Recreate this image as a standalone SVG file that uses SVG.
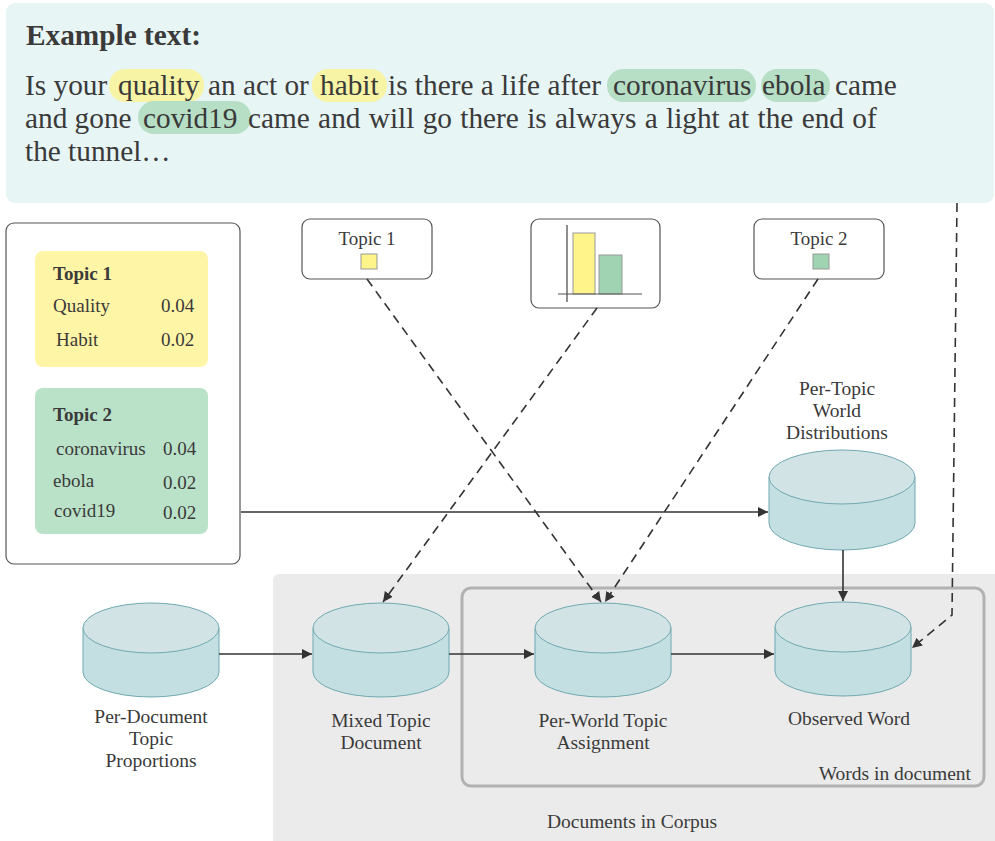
<svg xmlns="http://www.w3.org/2000/svg" width="995" height="841" viewBox="0 0 995 841">
<defs>
<style>
.t{font-family:"Liberation Serif","Times New Roman",serif;fill:#3a3a3a}
.lb{font-family:"Liberation Serif","Times New Roman",serif;fill:#3a3a3a;font-size:19.5px}
.c{text-anchor:middle}
.b{font-weight:bold}
.cylb{fill:#c4dfe2;stroke:#6fa9b0;stroke-width:1}
.cylt{fill:#d2e3e6;stroke:#6fa9b0;stroke-width:1}
.solid{fill:none;stroke:#333;stroke-width:1.6}
.dash{fill:none;stroke:#333;stroke-width:1.6;stroke-dasharray:9 6}
.hy{fill:#f8f4a6}
.hg{fill:#b6dfc6}
.box{fill:#fff;stroke:#555;stroke-width:1.2}
</style>
<marker id="ah" viewBox="0 0 10 10" refX="10" refY="5" markerWidth="10" markerHeight="10" markerUnits="userSpaceOnUse" orient="auto">
<path d="M0,0 L10,5 L0,10 z" fill="#333"/>
</marker>
</defs>
<rect width="995" height="841" fill="#fff"/>

<g id="example-text">
<rect x="6" y="3" width="988" height="200" rx="9" fill="#e8f5f5"/>
<rect class="hy" x="109" y="69" width="95" height="33" rx="16"/>
<rect class="hy" x="312" y="69" width="75" height="33" rx="16"/>
<rect class="hg" x="607" y="69" width="149" height="33" rx="16"/>
<rect class="hg" x="761" y="69" width="69" height="33" rx="16"/>
<rect class="hg" x="138" y="101" width="113" height="33" rx="16"/>
<text class="t b" x="26" y="45" font-size="29.3" fill="#4a4a4a">Example text:</text>
<text class="t" y="95" font-size="29.3"><tspan x="25">Is your</tspan><tspan x="118">quality</tspan><tspan x="208">an act or</tspan><tspan x="320">habit</tspan><tspan x="388">is there a life after</tspan><tspan x="613">coronavirus</tspan><tspan x="762">ebola</tspan><tspan x="835">came</tspan></text>
<text class="t" y="128" font-size="29.3"><tspan x="25">and gone</tspan><tspan x="143">covid19</tspan><tspan x="248" word-spacing="1">came and will go there is always a light at the end of</tspan></text>
<text class="t" x="25" y="161" font-size="29.3">the tunnel…</text>
</g>

<g id="corpus">
<path d="M279,574 H995 V841 H273 V580 A6,6 0 0 1 279,574 z" fill="#ebebeb"/>
<text class="lb c" x="632" y="828">Documents in Corpus</text>
</g>

<g id="words-in-document">
<rect x="462" y="588" width="522" height="198" rx="9" fill="none" stroke="#b2b2b2" stroke-width="3"/>
<text class="lb" x="971" y="780" text-anchor="end">Words in document</text>
</g>

<g id="topic-table">
<rect class="box" x="6" y="223" width="234" height="341" rx="8" stroke="#888"/>
<rect x="35" y="251" width="173" height="116" rx="8" fill="#fff5a6"/>
<rect x="35" y="388" width="173" height="146" rx="8" fill="#bae2c9"/>
<g font-size="19">
<text class="t b" x="53" y="280">Topic 1</text>
<text class="t" x="53" y="312">Quality</text>
<text class="t" x="161" y="312">0.04</text>
<text class="t" x="56" y="346">Habit</text>
<text class="t" x="161" y="346">0.02</text>
<text class="t b" x="53" y="421">Topic 2</text>
<text class="t" x="56" y="455">coronavirus</text>
<text class="t" x="163" y="455">0.04</text>
<text class="t" x="53" y="487">ebola</text>
<text class="t" x="163" y="489">0.02</text>
<text class="t" x="54" y="517">covid19</text>
<text class="t" x="163" y="519">0.02</text>
</g>
</g>

<g id="topic1">
<rect class="box" x="302" y="219" width="130" height="60" rx="8"/>
<text class="t c" x="367" y="245" font-size="19">Topic 1</text>
<rect x="361" y="254" width="16" height="15" fill="#fff48a" stroke="#999" stroke-width="1"/>
</g>

<g id="chart">
<rect class="box" x="531" y="219" width="129" height="89" rx="8"/>
<rect x="573" y="233" width="22" height="61" fill="#fff48a" stroke="#999" stroke-width="1"/>
<rect x="599" y="255" width="23" height="39" fill="#9fd3b1" stroke="#999" stroke-width="1"/>
<line x1="567" y1="225" x2="567" y2="302" stroke="#444" stroke-width="1.2"/>
<line x1="558" y1="294" x2="642" y2="294" stroke="#555" stroke-width="1.2"/>
</g>

<g id="topic2">
<rect class="box" x="754" y="219" width="130" height="60" rx="8"/>
<text class="t c" x="819" y="245" font-size="19">Topic 2</text>
<rect x="813" y="254" width="16" height="15" fill="#9fd3b1" stroke="#999" stroke-width="1"/>
</g>

<g id="per-topic-word-distributions">
<path class="cylb" d="M769,477 V523 A73,27 0 0 0 915,523 V477"/>
<ellipse class="cylt" cx="842" cy="477" rx="73" ry="27"/>
<text class="lb c" x="837" y="395">Per-Topic</text>
<text class="lb c" x="837" y="417">World</text>
<text class="lb c" x="837" y="439">Distributions</text>
</g>

<g id="per-document-topic-proportions">
<path class="cylb" d="M83,628 V672 A68,25 0 0 0 219,672 V628"/>
<ellipse class="cylt" cx="151" cy="628" rx="68" ry="25"/>
<text class="lb c" x="151" y="723">Per-Document</text>
<text class="lb c" x="151" y="745">Topic</text>
<text class="lb c" x="151" y="767">Proportions</text>
</g>

<g id="mixed-topic-document">
<path class="cylb" d="M313,628 V672 A68,25 0 0 0 449,672 V628"/>
<ellipse class="cylt" cx="381" cy="628" rx="68" ry="25"/>
<text class="lb c" x="381" y="727">Mixed Topic</text>
<text class="lb c" x="381" y="749">Document</text>
</g>

<g id="per-world-topic-assignment">
<path class="cylb" d="M535,628 V672 A68,25 0 0 0 671,672 V628"/>
<ellipse class="cylt" cx="603" cy="628" rx="68" ry="25"/>
<text class="lb c" x="603" y="727">Per-World Topic</text>
<text class="lb c" x="603" y="749">Assignment</text>
</g>

<g id="observed-word">
<path class="cylb" d="M775,627 V671 A68,25 0 0 0 911,671 V627"/>
<ellipse class="cylt" cx="843" cy="627" rx="68" ry="25"/>
<text class="lb c" x="849" y="725">Observed Word</text>
</g>

<g id="connectors">
<line class="solid" x1="241" y1="512" x2="768" y2="512" marker-end="url(#ah)"/>
<line class="solid" x1="843" y1="550" x2="843" y2="601" marker-end="url(#ah)"/>
<line class="solid" x1="219" y1="654" x2="312" y2="654" marker-end="url(#ah)"/>
<line class="solid" x1="449" y1="654" x2="534" y2="654" marker-end="url(#ah)"/>
<line class="solid" x1="671" y1="654" x2="774" y2="654" marker-end="url(#ah)"/>
<line class="dash" x1="367" y1="279" x2="601" y2="602" marker-end="url(#ah)"/>
<line class="dash" x1="818" y1="279" x2="605" y2="602" marker-end="url(#ah)"/>
<line class="dash" x1="597" y1="308" x2="383" y2="602" marker-end="url(#ah)"/>
<path class="dash" d="M957,203 L952,615 L912,648" marker-end="url(#ah)"/>
</g>
</svg>
